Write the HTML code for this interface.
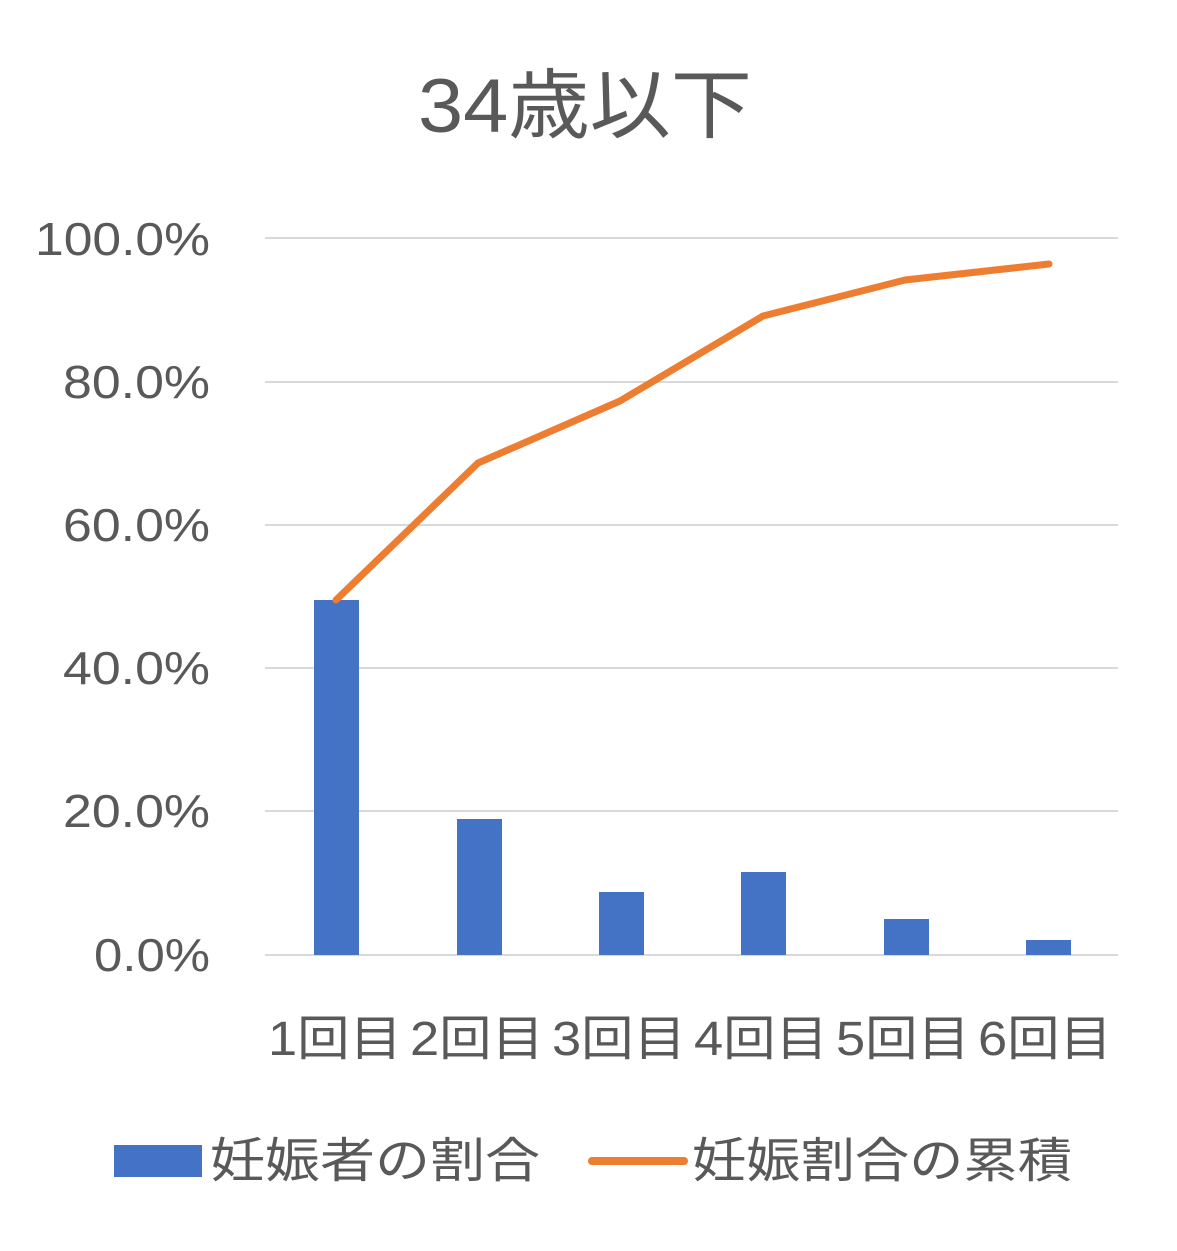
<!DOCTYPE html>
<html><head><meta charset="utf-8"><style>
body{margin:0;background:#fff;}
svg text{font-family:"Liberation Sans","Noto Sans CJK JP",sans-serif;fill:#595959;}
</style></head><body>
<svg width="1177" height="1246" viewBox="0 0 1177 1246" xmlns="http://www.w3.org/2000/svg">
<rect width="1177" height="1246" fill="#fff"/>
<text x="418" y="132" font-size="76" textLength="334" lengthAdjust="spacingAndGlyphs">34歳以下</text>
<g stroke="#d9d9d9" stroke-width="2">
<line x1="265" y1="238" x2="1118" y2="238"/>
<line x1="265" y1="382" x2="1118" y2="382"/>
<line x1="265" y1="525" x2="1118" y2="525"/>
<line x1="265" y1="668" x2="1118" y2="668"/>
<line x1="265" y1="811" x2="1118" y2="811"/>
<line x1="265" y1="955" x2="1118" y2="955"/>
</g>
<g font-size="46" lengthAdjust="spacingAndGlyphs">
<text x="35" y="255" textLength="175" lengthAdjust="spacingAndGlyphs">100.0%</text>
<text x="63" y="398" textLength="147" lengthAdjust="spacingAndGlyphs">80.0%</text>
<text x="63" y="541" textLength="147" lengthAdjust="spacingAndGlyphs">60.0%</text>
<text x="63" y="684" textLength="147" lengthAdjust="spacingAndGlyphs">40.0%</text>
<text x="63" y="827" textLength="147" lengthAdjust="spacingAndGlyphs">20.0%</text>
<text x="94" y="971" textLength="116" lengthAdjust="spacingAndGlyphs">0.0%</text>
</g>
<g fill="#4472C4">
<rect x="314" y="600" width="45" height="355"/>
<rect x="457" y="819" width="45" height="136"/>
<rect x="599" y="892" width="45" height="63"/>
<rect x="741" y="872" width="45" height="83"/>
<rect x="884" y="919" width="45" height="36"/>
<rect x="1026" y="940" width="45" height="15"/>
</g>
<polyline points="336,600 478,463 620,401 763,316 905,280 1049,264" fill="none" stroke="#ED7D31" stroke-width="7" stroke-linejoin="round" stroke-linecap="round"/>
<g font-size="48">
<text x="268" y="1055" textLength="134" lengthAdjust="spacingAndGlyphs">1回目</text>
<text x="410" y="1055" textLength="134" lengthAdjust="spacingAndGlyphs">2回目</text>
<text x="552" y="1055" textLength="134" lengthAdjust="spacingAndGlyphs">3回目</text>
<text x="694" y="1055" textLength="134" lengthAdjust="spacingAndGlyphs">4回目</text>
<text x="836" y="1055" textLength="134" lengthAdjust="spacingAndGlyphs">5回目</text>
<text x="978" y="1055" textLength="134" lengthAdjust="spacingAndGlyphs">6回目</text>
</g>
<rect x="114" y="1145" width="88" height="32" fill="#4472C4"/>
<text x="210" y="1177" font-size="48" textLength="330" lengthAdjust="spacingAndGlyphs">妊娠者の割合</text>
<line x1="592" y1="1161" x2="684" y2="1161" stroke="#ED7D31" stroke-width="8" stroke-linecap="round"/>
<text x="692" y="1177" font-size="48" textLength="380" lengthAdjust="spacingAndGlyphs">妊娠割合の累積</text>
</svg>
</body></html>
